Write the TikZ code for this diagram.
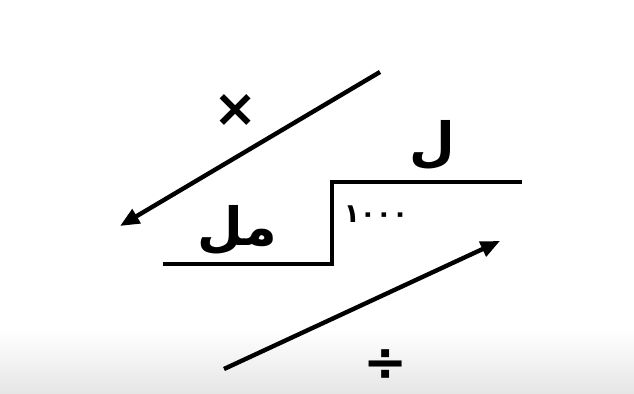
\documentclass[tikz,border=0pt]{standalone}
\usepackage{fontspec}
\newfontfamily\arabicfont[Script=Arabic]{DejaVu Sans}
\newfontfamily\opfont{DejaVu Sans}
\TeXXeTstate=1
\usetikzlibrary{arrows.meta}
\begin{document}
\begin{tikzpicture}[x=0.02cm, y=-0.02cm,
    unit/.style={font=\arabicfont\bfseries\fontsize{30}{32}\selectfont, inner sep=0pt},
    op/.style={font=\opfont\bfseries\fontsize{30}{32}\selectfont, inner sep=0pt},
    conv/.style={line width=2.5pt, -{Triangle[length=11pt,width=9pt]}}]
    \useasboundingbox (0,0) rectangle (634,394);
    % faint shading at the bottom edge
    \shade[top color=white, bottom color=black!10] (0,330) rectangle (634,394);

    % the step
    \draw[line width=2pt] (163,264) -- (332,264) -- (332,182) -- (522,182);

    % units and factor
    \node[unit] (litre) at (432,145) {\beginR ل\endR};
    \node[unit] (millilitre) at (237,230) {\beginR مل\endR};
    \node[font=\arabicfont\bfseries\fontsize{15}{16}\selectfont, inner sep=0pt] (factor) at (376,214) {١٠٠٠};

    % conversion arrows
    \coordinate (mulstart) at (380,72);
    \coordinate (mulend) at (120,226);
    \coordinate (divstart) at (224,369);
    \coordinate (divend) at (500,241);
    \draw[conv] (mulstart) -- (mulend);
    \draw[conv] (divstart) -- (divend);
    \node[op] (times) at (236,111) {×};
    \node[op] (divide) at (386,365) {÷};
\end{tikzpicture}
\end{document}
